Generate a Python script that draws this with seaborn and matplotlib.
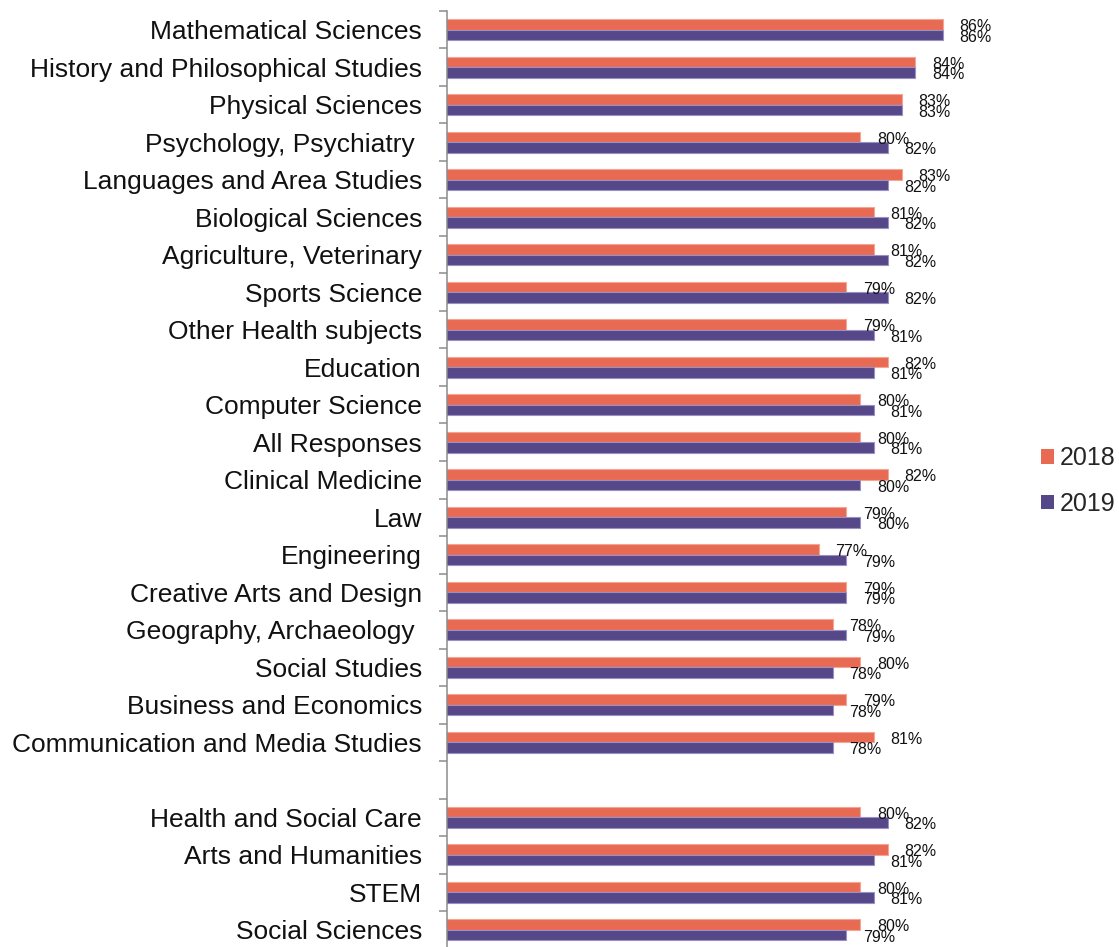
import matplotlib
matplotlib.use("Agg")
import matplotlib.pyplot as plt
import numpy as np
import pandas as pd
import seaborn as sns

# Subject areas, top to bottom; the empty entry separates the subject list from the broad groups
subjects = [
    "Mathematical Sciences",
    "History and Philosophical Studies",
    "Physical Sciences",
    "Psychology, Psychiatry ",
    "Languages and Area Studies",
    "Biological Sciences",
    "Agriculture, Veterinary",
    "Sports Science",
    "Other Health subjects",
    "Education",
    "Computer Science",
    "All Responses",
    "Clinical Medicine",
    "Law",
    "Engineering",
    "Creative Arts and Design",
    "Geography, Archaeology ",
    "Social Studies",
    "Business and Economics",
    "Communication and Media Studies",
    "",
    "Health and Social Care",
    "Arts and Humanities",
    "STEM",
    "Social Sciences",
]

# Percentage values per year (None for the spacer row)
values_2018 = [86, 84, 83, 80, 83, 81, 81, 79, 79, 82, 80, 80, 82, 79, 77, 79, 78, 80, 79, 81,
               None, 80, 82, 80, 80]
values_2019 = [86, 84, 83, 82, 82, 82, 82, 82, 81, 81, 81, 81, 80, 80, 79, 79, 79, 78, 78, 78,
               None, 82, 81, 81, 79]

years = ["2018", "2019"]
colors = {"2018": "#E96A52", "2019": "#554788"}
edge_colors = {"2018": "#F3A596", "2019": "#9A90C4"}

rows = []
for subj, v18, v19 in zip(subjects, values_2018, values_2019):
    if v18 is not None:
        rows.append({"subject": subj, "year": "2018", "value": v18})
    if v19 is not None:
        rows.append({"subject": subj, "year": "2019", "value": v19})
df = pd.DataFrame(rows)

sns.set_theme(style="white")
plt.rcParams["font.family"] = ["Liberation Sans", "DejaVu Sans"]

W, H, DPI = 1119, 947, 100
fig = plt.figure(figsize=(W / DPI, H / DPI), dpi=DPI)
ax = fig.add_axes([447 / W, (H - 948.5) / H, (998 - 447) / W, 937.5 / H])

sns.barplot(
    data=df, y="subject", x="value", hue="year", order=subjects, hue_order=years,
    orient="h", palette=colors, width=0.56, gap=0, errorbar=None, ax=ax,
    linewidth=0.8, saturation=1,
)

for cont, yr in zip(ax.containers, years):
    for patch in cont:
        patch.set_edgecolor(edge_colors[yr])
        w = patch.get_width()
        if np.isnan(w):
            continue
        yc = patch.get_y() + patch.get_height() / 2
        ax.annotate(f"{w:.0f}%", xy=(w, yc), xytext=(12, -1.5),
                    textcoords="offset points", ha="left", va="center",
                    fontsize=11.5, color="#111111", annotation_clip=False)

ax.set_xlim(50, 90)
ax.set_ylim(len(subjects) - 0.5, -0.5)

# Category labels at centres, tick marks at row boundaries
ax.set_yticks(np.arange(len(subjects)))
ax.set_yticklabels(subjects, fontsize=19, color="#111111")
ax.set_yticks(np.arange(len(subjects) + 1) - 0.5, minor=True)
ax.tick_params(axis="y", which="major", length=0, pad=18)
ax.tick_params(axis="y", which="minor", left=True, length=6, width=1.1,
               color="#8C8C8C", direction="out")
ax.set_xticks([])
ax.set_xlabel("")
ax.set_ylabel("")

for side in ["top", "right", "bottom"]:
    ax.spines[side].set_visible(False)
ax.spines["left"].set_color("#8C8C8C")
ax.spines["left"].set_linewidth(1.1)

leg = ax.get_legend()
if leg is not None:
    leg.remove()
handles = [plt.Rectangle((0, 0), 1, 1, facecolor=colors[y], edgecolor="none") for y in years]
fig.legend(handles, years, loc="center left", bbox_to_anchor=(1036 / W, 1 - 481 / H),
           frameon=False, fontsize=18, handlelength=0.5, handleheight=0.5,
           handletextpad=0.25, labelspacing=0.85, borderaxespad=0, borderpad=0.2)

fig.savefig("out.png", dpi=DPI)
